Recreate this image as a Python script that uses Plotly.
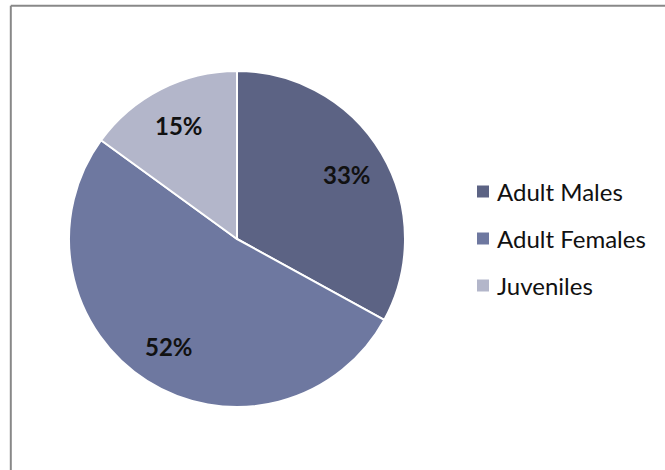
import math
import plotly.graph_objects as go

# Population composition
categories = ["Adult Males", "Adult Females", "Juveniles"]
shares = [33, 52, 15]
colors = ["#5c6384", "#6e78a0", "#b3b6ca"]

W, H = 665, 470
CX, CY, R = 237, 239, 168          # pie centre and radius in pixels
FONT = "Lato, 'Liberation Sans', sans-serif"


def px(x):
    return x / W


def py(y):
    return 1 - y / H


fig = go.Figure(
    go.Pie(
        labels=categories,
        values=shares,
        sort=False,
        direction="clockwise",
        rotation=0,
        marker=dict(colors=colors, line=dict(color="white", width=2)),
        textinfo="none",
        hoverinfo="label+percent",
        showlegend=False,
        domain=dict(x=[px(CX - R), px(CX + R)], y=[py(CY + R), py(CY - R)]),
    )
)

# Percentage labels placed at each slice's mid-angle
total = sum(shares)
cum = 0
annotations = []
for name, v in zip(categories, shares):
    mid = (cum + v / 2) / total * 2 * math.pi
    cum += v
    rl = 0.76 * R
    lx = CX + rl * math.sin(mid)
    ly = CY - rl * math.cos(mid)
    annotations.append(dict(
        x=px(lx), y=py(ly), xref="paper", yref="paper",
        text=f"<b>{round(v / total * 100)}%</b>", showarrow=False,
        font=dict(family=FONT, size=24, color="#111111"),
        xanchor="center", yanchor="middle",
    ))

# Legend built from squares and text
shapes = []
for i, (name, c) in enumerate(zip(categories, colors)):
    yc = 191.5 + 47 * i
    shapes.append(dict(
        type="rect", xref="paper", yref="paper",
        x0=px(477), x1=px(489), y0=py(yc + 6), y1=py(yc - 6),
        fillcolor=c, line=dict(width=0),
    ))
    annotations.append(dict(
        x=px(495), y=py(yc), xref="paper", yref="paper",
        text=name, showarrow=False, xanchor="left", yanchor="middle",
        font=dict(family=FONT, size=24, color="#111111"),
    ))

# Frame lines along the top and left edges
shapes.append(dict(type="line", xref="paper", yref="paper",
                   x0=px(10.8), x1=1, y0=py(5.8), y1=py(5.8),
                   line=dict(color="#888888", width=2)))
shapes.append(dict(type="line", xref="paper", yref="paper",
                   x0=px(10.8), x1=px(10.8), y0=py(5.8), y1=0,
                   line=dict(color="#888888", width=2)))

fig.update_layout(
    width=W, height=H,
    margin=dict(l=0, r=0, t=0, b=0),
    paper_bgcolor="white", plot_bgcolor="white",
    annotations=annotations, shapes=shapes,
)

fig.write_html("out.html")
